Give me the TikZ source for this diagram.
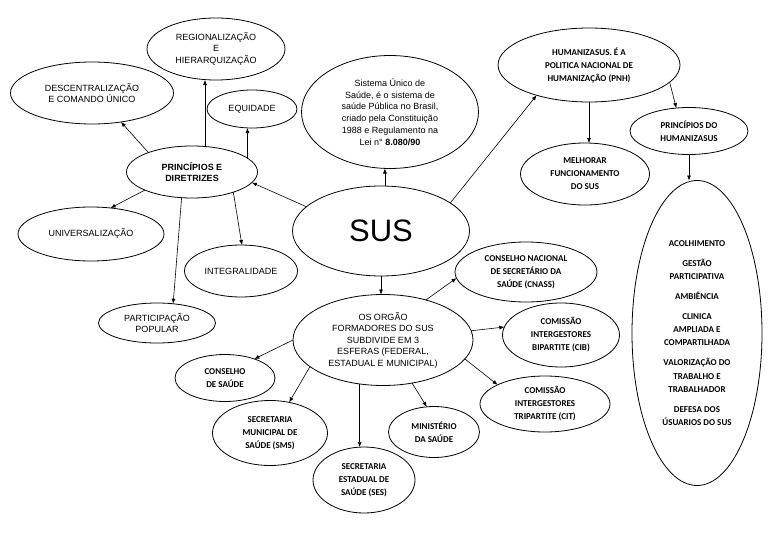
\documentclass[tikz,border=0pt]{standalone}
\usepackage{fontspec}
\setmainfont{Liberation Sans}
\newfontfamily\calib{Carlito}
\usetikzlibrary{arrows.meta, shapes.geometric}

\begin{document}
\begin{tikzpicture}[x=1pt, y=-1pt,
    every node/.style={font=\fontsize{9}{11.5}\selectfont},
    oval/.style={draw, ellipse, inner sep=0pt, outer sep=0pt,
                 line width=0.8pt, align=center},
    cal/.style={font=\calib\bfseries\fontsize{9}{13}\selectfont},
    link/.style={-{Latex[length=5pt, width=4pt]}, line width=0.6pt},
  ]
  \useasboundingbox (0,0) rectangle (768,543);

  % principles and guidelines
  \node[oval, minimum width=138, minimum height=62] (reg) at (216,49)
    {REGIONALIZAÇÃO\\E\\HIERARQUIZAÇÃO};
  \node[oval, minimum width=163, minimum height=62] (desc) at (92,93)
    {DESCENTRALIZAÇÃO\\E COMANDO ÚNICO};
  \node[oval, minimum width=90, minimum height=38] (equ) at (252,109) {EQUIDADE};
  \node[oval, minimum width=131, minimum height=52,
        font=\bfseries\fontsize{9}{10.5}\selectfont] (pd) at (192,172)
    {PRINCÍPIOS E\\DIRETRIZES};
  \node[oval, minimum width=146, minimum height=54] (univ) at (91,234) {UNIVERSALIZAÇÃO};
  \node[oval, minimum width=113, minimum height=52] (integ) at (241,271) {INTEGRALIDADE};
  \node[oval, minimum width=117, minimum height=40] (part) at (157,323)
    {PARTICIPAÇÃO\\POPULAR};

  % centre
  \node[oval, minimum width=177, minimum height=113,
        font=\fontsize{9}{11.7}\selectfont] (sis) at (390,112)
    {Sistema Único de\\Saúde, é o sistema de\\saúde Pública no Brasil,\\criado pela Constituição\\1988 e Regulamento na\\Lei n° \textbf{8.080/90}};
  \node[oval, minimum width=177, minimum height=90,
        font=\fontsize{31}{36}\selectfont] (sus) at (381,231) {SUS};

  % humanizasus
  \node[oval, cal, minimum width=182, minimum height=74] (hum) at (589,65)
    {HUMANIZASUS. É A\\POLITICA NACIONAL DE\\HUMANIZAÇÃO (PNH)};
  \node[oval, cal, minimum width=129, minimum height=62] (mel) at (585,174)
    {MELHORAR\\FUNCIONAMENTO\\DO SUS};
  \node[oval, cal, minimum width=118, minimum height=47] (pdh) at (689,131)
    {PRINCÍPIOS DO\\HUMANIZASUS};
  \node[oval, cal, minimum width=130, minimum height=305,
        font=\calib\bfseries\fontsize{9}{13.3}\selectfont] (big) at (697,333)
    {ACOLHIMENTO\\[6.7pt] GESTÃO\\PARTICIPATIVA\\[6.7pt] AMBIÊNCIA\\[6.7pt]
     CLINICA\\AMPLIADA E\\COMPARTILHADA\\[6.7pt] VALORIZAÇÃO DO\\TRABALHO E\\TRABALHADOR\\[6.7pt]
     DEFESA DOS\\ÚSUARIOS DO SUS};

  % organs
  \node[oval, minimum width=180, minimum height=91] (org) at (383,340)
    {OS ORGÃO\\FORMADORES DO SUS\\SUBDIVIDE EM 3\\ESFERAS (FEDERAL,\\ESTADUAL E MUNICIPAL)};
  \node[oval, cal, minimum width=142, minimum height=60] (cnass) at (526,272)
    {CONSELHO NACIONAL\\DE SECRETÁRIO DA\\SAÚDE (CNASS)};
  \node[oval, cal, minimum width=117, minimum height=64] (cib) at (561,335)
    {COMISSÃO\\INTERGESTORES\\BIPARTITE (CIB)};
  \node[oval, cal, minimum width=130, minimum height=56] (cit) at (545,404)
    {COMISSÃO\\INTERGESTORES\\TRIPARTITE (CIT)};
  \node[oval, cal, minimum width=100, minimum height=47] (cons) at (225,378)
    {CONSELHO\\DE SAÚDE};
  \node[oval, cal, minimum width=115, minimum height=65] (sms) at (270,433)
    {SECRETARIA\\MUNICIPAL DE\\SAÚDE (SMS)};
  \node[oval, cal, minimum width=102, minimum height=66] (ses) at (364,480)
    {SECRETARIA\\ESTADUAL DE\\SAÚDE (SES)};
  \node[oval, cal, minimum width=91, minimum height=51] (ms) at (434,432)
    {MINISTÉRIO\\DA SAÚDE};

  \draw[link] (pd.156) -- (desc.-45);
  \draw[link] (pd.63) -- (pd.63 |- reg.south);
  \draw[link] (pd.14) -- (pd.14 |- equ.south);
  \draw[link] (sus.162) -- (pd.-10);
  \draw[link] (pd.201) -- (univ.53);
  \draw[link] (pd.248) -- (part.50);
  \draw[link] (pd.-26) -- (integ.88);

  \draw[link] (sus.85) -- (sus.85 |- sis.south);
  \draw[link] (sus.22) -- (hum.210);
  \draw[link] (hum.south) -- (hum.south |- mel.north);
  \draw[link] (hum.-12) -- (pdh.119);
  \draw[link] (pdh.south) -- (pdh.south |- big.north);

  \draw[link] (sus.south) -- (sus.south |- org.north);
  \draw[link] (org.43) -- (cnass.185);
  \draw[link] (org.6) -- (cib.172);
  \draw[link] (org.-13) -- (cit.158);
  \draw[link] (org.180) -- (cons.33);
  \draw[link] (org.200) -- (sms.58);
  \draw[link] (org.242) -- (org.242 |- ses.north);
  \draw[link] (org.-56) -- (ms.106);
\end{tikzpicture}
\end{document}
